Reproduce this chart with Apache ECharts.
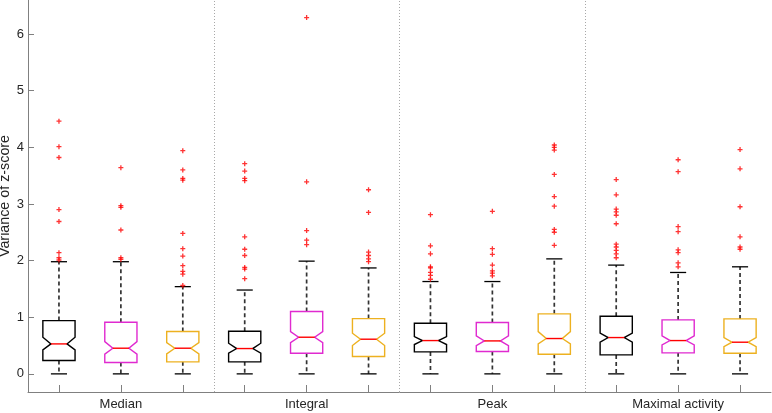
<!DOCTYPE html>
<html>
<head>
<meta charset="utf-8">
<script src="https://cdn.jsdelivr.net/npm/echarts@6/dist/echarts.min.js"></script>
<style>html,body{margin:0;padding:0;background:#fff}#c{width:772px;height:413px}</style>
</head>
<body>
<div id="c"></div>
<script>
// ---- data ----
var groupLabels = ['Median', 'Integral', 'Peak', 'Maximal activity'];
var boxColors = ['#000000', '#e02ad0', '#edb120'];
var yTicks = [0, 1, 2, 3, 4, 5, 6];

var whiskerLow  = [0, 0, 0, 0, 0, 0, 0, 0, 0, 0, 0, 0];
var q1          = [0.235, 0.20, 0.212, 0.212, 0.365, 0.306, 0.388, 0.394, 0.347, 0.335, 0.371, 0.365];
var notchLow    = [0.423, 0.347, 0.353, 0.365, 0.553, 0.50, 0.518, 0.50, 0.529, 0.559, 0.512, 0.482];
var medians     = [0.529, 0.453, 0.453, 0.447, 0.647, 0.612, 0.588, 0.582, 0.624, 0.641, 0.588, 0.559];
var notchHigh   = [0.647, 0.57, 0.553, 0.541, 0.747, 0.718, 0.659, 0.67, 0.747, 0.718, 0.67, 0.641];
var q3          = [0.94, 0.91, 0.747, 0.753, 1.10, 0.976, 0.894, 0.906, 1.06, 1.018, 0.953, 0.97];
var whiskerHigh = [1.98, 1.98, 1.54, 1.48, 1.99, 1.87, 1.63, 1.63, 2.03, 1.92, 1.79, 1.89];

var outliers = [
  [4.46, 4.01, 3.82, 2.90, 2.69, 2.14, 2.05, 2.01],
  [3.64, 2.97, 2.94, 2.54, 2.05, 2.02],
  [3.94, 3.60, 3.45, 3.42, 2.48, 2.21, 2.08, 1.91, 1.81, 1.76, 1.56],
  [3.71, 3.58, 3.45, 3.41, 2.42, 2.20, 2.09, 1.88, 1.85, 1.68],
  [6.29, 3.39, 2.53, 2.36, 2.28],
  [3.25, 2.85, 2.15, 2.09, 2.03, 1.98],
  [2.81, 2.26, 2.12, 1.89, 1.87, 1.79, 1.74, 1.67],
  [2.87, 2.21, 2.11, 1.92, 1.82, 1.78, 1.73],
  [4.04, 4.00, 3.95, 3.52, 3.13, 2.96, 2.55, 2.50, 2.27],
  [3.43, 3.16, 2.91, 2.86, 2.80, 2.65, 2.29, 2.24, 2.18, 2.12, 2.05],
  [3.78, 3.57, 2.60, 2.51, 2.19, 2.14, 1.96, 1.89],
  [3.96, 3.62, 2.95, 2.42, 2.24, 2.20]
];
var separators = [3.5, 6.5, 9.5];

// ---- build ----
var cats = [];
for (var i = 0; i < 12; i++) {
  var g = Math.floor(i / 3);
  cats.push(i % 3 === 1 ? groupLabels[g] : '');
}
var boxData = [];
var outData = [];
for (var i = 0; i < 12; i++) {
  boxData.push([i + 1, whiskerLow[i], q1[i], notchLow[i], medians[i], notchHigh[i], q3[i], whiskerHigh[i], i % 3]);
  outliers[i].forEach(function (v) { outData.push([i + 1, v]); });
}

var FONT = '"Liberation Sans", Arial, sans-serif';
var BW = 0.52; // box width in x units

function renderBox(params, api) {
  var x = api.value(0);
  var col = boxColors[api.value(8)];
  function P(dx, v) { return api.coord([x + dx, v]); }
  var h = BW / 2, n = BW / 4, c = BW / 4;
  var lo = api.value(1), b1 = api.value(2), nl = api.value(3), md = api.value(4),
      nh = api.value(5), b3 = api.value(6), hi = api.value(7);
  var poly = [P(-h, b3), P(h, b3), P(h, nh), P(n, md), P(h, nl), P(h, b1),
              P(-h, b1), P(-h, nl), P(-n, md), P(-h, nh)];
  var dash = { stroke: '#333', lineWidth: 1.7, lineDash: [4, 3], fill: null };
  var solid = { stroke: '#000', lineWidth: 1.3, fill: null };
  return {
    type: 'group',
    children: [
      { type: 'line', shape: { x1: P(0, b3)[0], y1: P(0, b3)[1], x2: P(0, hi)[0], y2: P(0, hi)[1] }, style: dash },
      { type: 'line', shape: { x1: P(0, b1)[0], y1: P(0, b1)[1], x2: P(0, lo)[0], y2: P(0, lo)[1] }, style: dash },
      { type: 'line', shape: { x1: P(-c, hi)[0], y1: P(-c, hi)[1], x2: P(c, hi)[0], y2: P(c, hi)[1] }, style: solid },
      { type: 'line', shape: { x1: P(-c, lo)[0], y1: P(-c, lo)[1], x2: P(c, lo)[0], y2: P(c, lo)[1] }, style: solid },
      { type: 'polygon', shape: { points: poly }, style: { stroke: col, lineWidth: 1.4, fill: '#fff' } },
      { type: 'line', shape: { x1: P(-n, md)[0], y1: P(-n, md)[1], x2: P(n, md)[0], y2: P(n, md)[1] }, style: { stroke: '#ff0000', lineWidth: 1.4 } }
    ]
  };
}

var chart = echarts.init(document.getElementById('c'), null, { renderer: 'canvas' });
chart.setOption({
  animation: false,
  backgroundColor: '#fff',
  grid: { left: 28, right: 1, top: 0, bottom: 21, containLabel: false, outerBoundsMode: 'none' },
  xAxis: [
    {
      type: 'category', data: cats, boundaryGap: true,
      axisLine: { onZero: false, lineStyle: { color: '#808080', width: 1 } },
      axisTick: { show: true, alignWithLabel: true, interval: 0, inside: true, length: 7, lineStyle: { color: '#808080' } },
      axisLabel: { interval: 0, margin: 6, color: '#262626', fontSize: 13, fontFamily: FONT },
      splitLine: { show: false }
    },
    {
      type: 'value', min: 0.5, max: 12.5, show: false, axisLine: { onZero: false }
    }
  ],
  yAxis: {
    type: 'value', min: -0.32, max: 6.6, splitNumber: 6,
    name: 'Variance of z-score', nameLocation: 'middle', nameGap: 16, nameMoveOverlap: false,
    nameTextStyle: { color: '#262626', fontSize: 14.3, fontFamily: FONT },
    axisLine: { show: true, onZero: false, lineStyle: { color: '#808080', width: 1 } },
    axisTick: { show: true, inside: true, length: 6, lineStyle: { color: '#808080' } },
    axisLabel: {
      color: '#262626', fontSize: 13, fontFamily: FONT, margin: 4,
      showMinLabel: false, showMaxLabel: false,
      formatter: function (v) { return yTicks.indexOf(v) >= 0 ? String(v) : ''; }
    },
    splitLine: { show: false }
  },
  series: [
    {
      type: 'line', xAxisIndex: 1, data: [], silent: true,
      markLine: {
        symbol: 'none', silent: true, label: { show: false },
        lineStyle: { color: '#a8a8a8', type: [1, 2], width: 1 },
        data: separators.map(function (s) { return { xAxis: s }; })
      }
    },
    {
      type: 'custom', xAxisIndex: 1, renderItem: renderBox, data: boxData,
      encode: { x: 0, y: [1, 7] }, silent: true
    },
    {
      type: 'scatter', xAxisIndex: 1, data: outData, silent: true,
      symbol: 'path://M2,0h1.4v2h2v1.4h-2v2h-1.4v-2h-2v-1.4h2z', symbolSize: 5,
      itemStyle: { color: '#ff0000' }
    }
  ]
});
</script>
</body>
</html>
